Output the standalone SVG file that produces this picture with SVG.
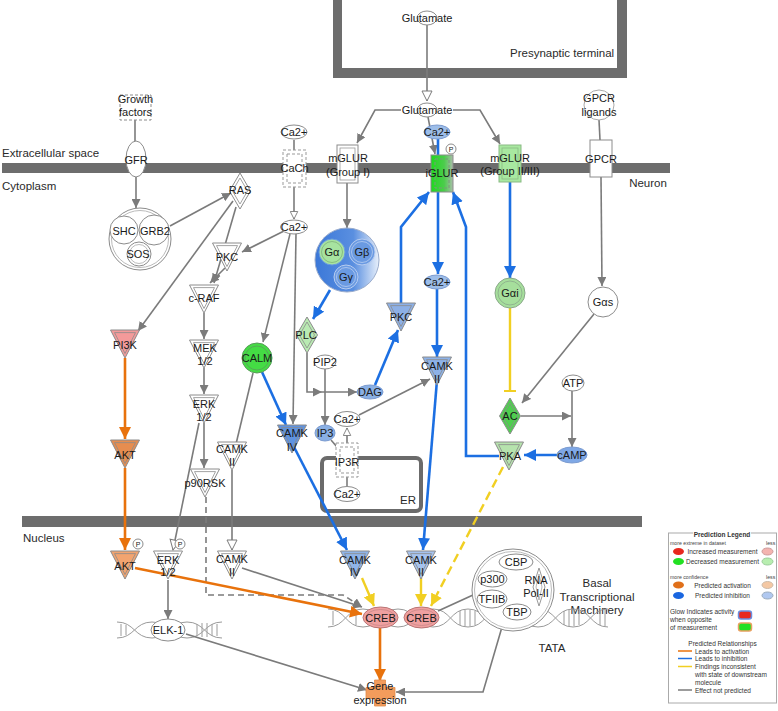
<svg xmlns="http://www.w3.org/2000/svg" width="778" height="711" viewBox="0 0 778 711">
<defs>
<style>
.t{font-family:"Liberation Sans",Arial,sans-serif;font-size:11px;fill:#1a1a1a;text-anchor:middle;dominant-baseline:central}
.c{font-family:"Liberation Sans",Arial,sans-serif;font-size:11.5px;fill:#2a2a2a;dominant-baseline:central}
.mem{fill:#6d6d6d}
.n{stroke:#8c8c8c;stroke-width:1}
.w{fill:#fff}
.g{stroke:#7b7b7b;stroke-width:1.6;fill:none}
.b{stroke:#1c6fe2;stroke-width:2.6;fill:none}
.o{stroke:#e8720c;stroke-width:2.6;fill:none}
.y{stroke:#f1cf22;stroke-width:2.4;fill:none}
.dna{stroke:#9a9a9a;stroke-width:1;fill:none}
.lg{font-family:"Liberation Sans",Arial,sans-serif;font-size:6.5px;fill:#333;dominant-baseline:central}
.ls{font-family:"Liberation Sans",Arial,sans-serif;font-size:5.2px;fill:#444;dominant-baseline:central}
.p{font-family:"Liberation Sans",Arial,sans-serif;font-size:7px;fill:#1a1a1a;text-anchor:middle;dominant-baseline:central}
</style>
<marker id="ag" viewBox="0 0 10 10" refX="10" refY="5" markerWidth="9" markerHeight="9" markerUnits="userSpaceOnUse" orient="auto"><path d="M0,0L10,5L0,10Z" fill="#7b7b7b"/></marker>
<marker id="ago" viewBox="0 0 12 12" refX="11" refY="6" markerWidth="12" markerHeight="12" markerUnits="userSpaceOnUse" orient="auto"><path d="M1,1L11,6L1,11Z" fill="#fff" stroke="#7b7b7b" stroke-width="1"/></marker>
<marker id="agos" viewBox="0 0 12 12" refX="11" refY="6" markerWidth="9" markerHeight="9" markerUnits="userSpaceOnUse" orient="auto"><path d="M1,1L11,6L1,11Z" fill="#fff" stroke="#7b7b7b" stroke-width="1.2"/></marker>
<marker id="ab" viewBox="0 0 10 10" refX="10" refY="5" markerWidth="12" markerHeight="12" markerUnits="userSpaceOnUse" orient="auto"><path d="M0,0L10,5L0,10Z" fill="#1c6fe2"/></marker>
<marker id="ao" viewBox="0 0 10 10" refX="10" refY="5" markerWidth="12" markerHeight="12" markerUnits="userSpaceOnUse" orient="auto"><path d="M0,0L10,5L0,10Z" fill="#e8720c"/></marker>
<marker id="ay" viewBox="0 0 10 10" refX="10" refY="5" markerWidth="12" markerHeight="12" markerUnits="userSpaceOnUse" orient="auto"><path d="M0,0L10,5L0,10Z" fill="#f1cf22"/></marker>
<marker id="ty" viewBox="0 0 4 12" refX="2" refY="6" markerWidth="4" markerHeight="12" markerUnits="userSpaceOnUse" orient="auto"><path d="M2,0V12" stroke="#f1cf22" stroke-width="2"/></marker>
<linearGradient id="gb" x1="0" y1="0" x2="1" y2="0"><stop offset="0" stop-color="#3b78d8"/><stop offset="0.6" stop-color="#5a8fe0"/><stop offset="1" stop-color="#e8f0fb"/></linearGradient>
<linearGradient id="gi" x1="0" y1="0" x2="1" y2="0"><stop offset="0" stop-color="#1fd81f"/><stop offset="0.6" stop-color="#4ccc4c"/><stop offset="1" stop-color="#a9bda9"/></linearGradient>
<g id="tri"><path d="M-14.5,0H14.5L0,28Z" stroke="#8c8c8c"/><path d="M-10.5,2.6H10.5L0,23.5Z" fill="none" stroke="#8c8c8c" stroke-width=".8"/></g>
<g id="dia"><path d="M0,-18L10.5,0L0,18L-10.5,0Z" stroke="#8c8c8c"/><path d="M0,-13L7.5,0L0,13L-7.5,0Z" fill="none" stroke="#8c8c8c" stroke-width=".8"/></g>
</defs>
<rect width="778" height="711" fill="#fff"/>

<g id="compartments">
<rect class="mem" x="333" y="0" width="9" height="78"/>
<rect class="mem" x="333" y="68" width="294" height="10"/>
<rect class="mem" x="617" y="0" width="10" height="78"/>
<rect class="mem" x="2" y="163" width="668" height="10"/>
<rect class="mem" x="22" y="516" width="620" height="11"/>
<rect x="322" y="458" width="99" height="53" rx="5" fill="none" stroke="#6b6b6b" stroke-width="4"/>
<text class="c" x="510" y="53">Presynaptic terminal</text>
<text class="c" x="2" y="153">Extracellular space</text>
<text class="c" x="2" y="186">Cytoplasm</text>
<text class="c" x="648" y="183" text-anchor="middle">Neuron</text>
<text class="c" x="23" y="538">Nucleus</text>
<text class="c" x="408" y="500" text-anchor="middle">ER</text>
<text class="c" x="597" y="583" text-anchor="middle">Basal</text>
<text class="c" x="597" y="597" text-anchor="middle">Transcriptional</text>
<text class="c" x="597" y="610" text-anchor="middle">Machinery</text>
<text class="c" x="552" y="648" text-anchor="middle">TATA</text>
</g>

<g id="dna">
<path class="dna" d="M328,627 C345.5,627 345.5,609 363,609 S380.5,627 398,627 S415.5,609 433,609 S450.5,627 468,627 S485.5,609 503,609 S520.5,627 538,627 S555.5,609 573,609 S590.5,627 608,627"/>
<path class="dna" d="M328,609 C345.5,609 345.5,627 363,627 S380.5,609 398,609 S415.5,627 433,627 S450.5,609 468,609 S485.5,627 503,627 S520.5,609 538,609 S555.5,627 573,627 S590.5,609 608,609"/>
<path class="dna" d="M333,611V625M356,611V625M460,611V625M465,610V626M470,610V626M475,611V625M564,611V625M569,610V626M574,610V626M579,611V625M600,611V625M605,610V626"/>
<path class="dna" d="M117,638 C134.5,638 134.5,622 152,622 S169.5,638 187,638 S204.5,622 222,622"/>
<path class="dna" d="M117,622 C134.5,622 134.5,638 152,638 S169.5,622 187,622 S204.5,638 222,638"/>
<path class="dna" d="M121,624V636M126,625V635M197,624V636M202,623V637M207,623V637M212,624V636M217,624V636"/>
</g>

<g id="connectors">
<line class="g" x1="427" y1="25" x2="427" y2="101" marker-end="url(#ago)"/>
<polyline class="g" points="401,110 375,110 357,143" marker-end="url(#ag)"/>
<polyline class="g" points="453,110 480,110 500,144" marker-end="url(#ag)"/>
<line class="g" x1="428" y1="117" x2="435" y2="154" marker-end="url(#ag)"/>
<line class="g" x1="135" y1="120" x2="135" y2="141"/>
<line class="g" x1="136" y1="177" x2="136" y2="208" marker-end="url(#ag)"/>
<line class="g" x1="170" y1="226" x2="231" y2="193" marker-end="url(#ag)"/>
<line class="g" x1="233" y1="201" x2="138" y2="331" marker-end="url(#ag)"/>
<line class="g" x1="236" y1="207" x2="214" y2="283" marker-end="url(#ag)"/>
<line class="g" x1="225" y1="268" x2="210" y2="283" marker-end="url(#ag)"/>
<line class="g" x1="294" y1="140" x2="294" y2="150"/>
<line class="g" x1="294" y1="187" x2="294" y2="219" marker-end="url(#agos)"/>
<line class="g" x1="284" y1="231" x2="242" y2="252" marker-end="url(#ag)"/>
<line class="g" x1="290" y1="234" x2="263" y2="342" marker-end="url(#ag)"/>
<line class="g" x1="296" y1="234" x2="293" y2="424" marker-end="url(#ag)"/>
<line class="g" x1="253" y1="373" x2="236" y2="444"/>
<line class="g" x1="232" y1="470" x2="232" y2="550" marker-end="url(#ago)"/>
<line class="g" x1="199" y1="423" x2="173" y2="550" marker-end="url(#ago)"/>
<line class="g" x1="204" y1="313" x2="204" y2="339" marker-end="url(#ag)"/>
<line class="g" x1="204" y1="368" x2="204" y2="394" marker-end="url(#ag)"/>
<line class="g" x1="204" y1="423" x2="204" y2="468" marker-end="url(#ag)"/>
<polyline class="g" points="206,497 206,595 343,595 362,607" stroke-dasharray="6,4" marker-end="url(#ag)"/>
<line class="g" x1="347" y1="183" x2="347" y2="228" marker-end="url(#ag)"/>
<polyline class="g" points="307,353 307,392 322,392" marker-end="url(#ag)"/>
<line class="g" x1="322" y1="392" x2="357" y2="392" marker-end="url(#ag)"/>
<line class="g" x1="325" y1="369" x2="325" y2="425" marker-end="url(#ag)"/>
<line class="g" x1="359" y1="415" x2="430" y2="379" marker-end="url(#ag)"/>
<line class="g" x1="347" y1="443" x2="347" y2="428" marker-end="url(#agos)"/>
<line class="g" x1="347" y1="477" x2="347" y2="486"/>
<line class="g" x1="331" y1="440" x2="337" y2="447"/>
<line class="g" x1="599" y1="120" x2="600" y2="140"/>
<line class="g" x1="601" y1="177" x2="602" y2="286" marker-end="url(#ag)"/>
<line class="g" x1="594" y1="314" x2="522" y2="403" marker-end="url(#ag)"/>
<line class="g" x1="521" y1="416" x2="571" y2="416" marker-end="url(#ag)"/>
<line class="g" x1="572" y1="391" x2="572" y2="447" marker-end="url(#ag)"/>
<line class="g" x1="242" y1="568" x2="362" y2="607" marker-end="url(#ag)"/>
<line class="g" x1="186" y1="634" x2="367" y2="690" marker-end="url(#ag)"/>
<polyline class="g" points="502,627 483,692 396,692" marker-end="url(#ag)"/>
<line class="g" x1="438" y1="611" x2="473" y2="595"/>
<line class="g" x1="168" y1="580" x2="168" y2="619" marker-end="url(#ag)"/>

<line class="b" x1="438" y1="139" x2="438" y2="156"/>
<line class="b" x1="438" y1="192" x2="438" y2="274" marker-end="url(#ab)"/>
<line class="b" x1="437" y1="289" x2="437" y2="357" marker-end="url(#ab)"/>
<line class="b" x1="437" y1="380" x2="423" y2="550" marker-end="url(#ab)"/>
<line class="b" x1="330" y1="290" x2="313" y2="319" marker-end="url(#ab)"/>
<line class="b" x1="375" y1="385" x2="398" y2="330" marker-end="url(#ab)"/>
<polyline class="b" points="401,305 401,227 429,192" marker-end="url(#ab)"/>
<polyline class="b" points="499,456 466,456 466,227 453,192" marker-end="url(#ab)"/>
<line class="b" x1="557" y1="455" x2="524" y2="455" marker-end="url(#ab)"/>
<line class="b" x1="510" y1="182" x2="510" y2="278" marker-end="url(#ab)"/>
<line class="b" x1="262" y1="372" x2="286" y2="425" marker-end="url(#ab)"/>
<line class="b" x1="294" y1="447" x2="347" y2="550" marker-end="url(#ab)"/>

<line class="o" x1="125" y1="358" x2="125" y2="439" marker-end="url(#ao)"/>
<line class="o" x1="125" y1="468" x2="125" y2="550" marker-end="url(#ao)"/>
<line class="o" x1="135" y1="568" x2="362" y2="614" marker-end="url(#ao)"/>
<line class="o" x1="380" y1="628" x2="380" y2="681" marker-end="url(#ao)"/>

<line class="y" x1="510" y1="308" x2="510" y2="391" marker-end="url(#ty)"/>
<line class="y" x1="362" y1="578" x2="374" y2="606" marker-end="url(#ay)"/>
<line class="y" x1="421" y1="578" x2="421" y2="606" marker-end="url(#ay)"/>
<line class="y" x1="503" y1="467" x2="431" y2="606" stroke-dasharray="9,5" marker-end="url(#ay)"/>
</g>

<g id="glutamate-top"><ellipse class="n w" cx="427" cy="18" rx="10" ry="7"/><text class="t" x="427" y="18">Glutamate</text></g>
<g id="glutamate"><ellipse class="n w" cx="427" cy="110" rx="10" ry="7"/><text class="t" x="427" y="110">Glutamate</text></g>
<g id="growth-factors"><rect class="w" x="120" y="95" width="31" height="25" stroke="#8c8c8c" stroke-dasharray="3,2"/><text class="t" x="135.5" y="99">Growth</text><text class="t" x="135.5" y="112">factors</text></g>
<g id="gfr"><ellipse class="n w" cx="136" cy="159" rx="10" ry="18"/><text class="t" x="136" y="160">GFR</text></g>
<g id="shc-grb2-sos"><circle class="n w" cx="140" cy="239" r="31"/><circle cx="140" cy="239" r="28.5" fill="none" stroke="#aaa" stroke-width=".8"/><circle class="n w" cx="124" cy="230" r="14"/><circle class="n w" cx="154" cy="230" r="15"/><circle class="n w" cx="139" cy="254" r="12"/><circle cx="139" cy="254" r="9.5" fill="none" stroke="#aaa" stroke-width=".8"/><text class="t" x="124" y="231">SHC</text><text class="t" x="155" y="231">GRB2</text><text class="t" x="138" y="254">SOS</text></g>
<g id="ras"><use href="#dia" x="240" y="191" fill="#fff"/><text class="t" x="240" y="190">RAS</text></g>
<g id="ca-top"><ellipse class="n w" cx="294" cy="132" rx="13" ry="7"/><text class="t" x="294" y="132">Ca2+</text></g>
<g id="cach"><rect class="w" x="283" y="150" width="23" height="37" stroke="#999" stroke-dasharray="3,2"/><rect x="287" y="154" width="15" height="29" fill="none" stroke="#999" stroke-dasharray="3,2"/><text class="t" x="294.5" y="168">CaCh</text></g>
<g id="ca-mid"><ellipse class="n w" cx="294" cy="227" rx="13.5" ry="7"/><text class="t" x="294" y="227">Ca2+</text></g>
<g id="pkc-left"><use href="#tri" x="227" y="243" fill="#fff"/><text class="t" x="227" y="257">PKC</text></g>
<g id="c-raf"><use href="#tri" x="204" y="285" fill="#fff"/><text class="t" x="204" y="298">c-RAF</text></g>
<g id="mek"><use href="#tri" x="204" y="340" fill="#fff"/><text class="t" x="205" y="348">MEK</text><text class="t" x="205" y="361">1/2</text></g>
<g id="erk"><use href="#tri" x="204" y="395" fill="#fff"/><text class="t" x="204" y="404">ERK</text><text class="t" x="204" y="417">1/2</text></g>
<g id="p90rsk"><use href="#tri" x="205" y="469" fill="#fff"/><text class="t" x="205" y="483">p90RSK</text></g>
<g id="pi3k"><use href="#tri" x="125" y="330" fill="#f49a9a"/><text class="t" x="125" y="345">PI3K</text></g>
<g id="akt"><use href="#tri" x="125" y="440" fill="#e68d50"/><text class="t" x="125" y="455">AKT</text></g>
<g id="calm"><circle cx="257" cy="358" r="15" fill="#44dc44" stroke="#5a9a5a"/><circle cx="257" cy="358" r="12" fill="none" stroke="#5a9a5a" stroke-width=".8"/><text class="t" x="257" y="358">CALM</text></g>
<g id="camk4-cyto"><use href="#tri" x="292" y="425" fill="#5f93e0"/><text class="t" x="292" y="433">CAMK</text><text class="t" x="292" y="447">IV</text></g>
<g id="camk2-cyto-w"><use href="#tri" x="232" y="442" fill="#fff"/><text class="t" x="232" y="449">CAMK</text><text class="t" x="232" y="462">II</text></g>
<g id="mglur1"><rect class="n w" x="337" y="145" width="21" height="38"/><rect x="340" y="148" width="15" height="32" fill="none" stroke="#999" stroke-width=".8"/><text class="t" x="348" y="158">mGLUR</text><text class="t" x="348" y="172">(Group I)</text></g>
<g id="g-protein"><circle cx="347" cy="260" r="32" fill="url(#gb)" stroke="#9aaccc"/><circle cx="332" cy="252" r="13" fill="#a7e3a0" stroke="#6a9ae2"/><circle cx="332" cy="252" r="10.5" fill="none" stroke="#7fb37a" stroke-width=".8"/><circle cx="362" cy="252" r="13" fill="#6a9ae2" stroke="#b8cdf0"/><circle cx="362" cy="252" r="10.5" fill="none" stroke="#b8cdf0" stroke-width=".8"/><circle cx="346" cy="277" r="12" fill="#6a9ae2" stroke="#b8cdf0"/><circle cx="346" cy="277" r="9.5" fill="none" stroke="#b8cdf0" stroke-width=".8"/><text class="t" x="332" y="252">Gα</text><text class="t" x="362" y="252">Gβ</text><text class="t" x="346" y="277">Gγ</text></g>
<g id="plc"><use href="#dia" x="307" y="335" fill="#b9eab2"/><text class="t" x="306" y="335">PLC</text></g>
<g id="pip2"><ellipse class="n w" cx="325" cy="362" rx="11" ry="7"/><text class="t" x="325" y="362">PIP2</text></g>
<g id="dag"><ellipse cx="370" cy="392" rx="13" ry="7" fill="#8ab0e4" stroke="#7b9bd0"/><text class="t" x="370" y="392">DAG</text></g>
<g id="ip3"><ellipse cx="325" cy="433" rx="10" ry="8" fill="#8ab0e4" stroke="#7b9bd0"/><text class="t" x="325" y="433">IP3</text></g>
<g id="ca-er-top"><ellipse class="n w" cx="347" cy="419" rx="13" ry="7.5"/><text class="t" x="347" y="419">Ca2+</text></g>
<g id="ip3r"><rect class="w" x="336" y="443" width="22" height="34" stroke="#999" stroke-dasharray="3,2"/><rect x="340" y="447" width="14" height="26" fill="none" stroke="#999" stroke-dasharray="3,2"/><text class="t" x="347" y="462">IP3R</text></g>
<g id="ca-er"><ellipse class="n w" cx="347" cy="494" rx="13" ry="7.5"/><text class="t" x="347" y="494">Ca2+</text></g>
<g id="pkc-blue"><use href="#tri" x="401" y="303" fill="#8db0e6"/><text class="t" x="401" y="317">PKC</text></g>
<g id="ca-iglur"><ellipse cx="437" cy="132" rx="13" ry="7" fill="#9dbde8" stroke="#7b9bd0"/><text class="t" x="437" y="132">Ca2+</text></g>
<g id="iglur"><rect x="431" y="155" width="22" height="37" fill="url(#gi)" stroke="#8c8c8c"/><rect x="435" y="159" width="14" height="29" fill="none" stroke="#7a9a7a" stroke-dasharray="3,2"/><text class="t" x="442" y="173">iGLUR</text><circle class="n w" cx="451" cy="149" r="5"/><text class="p" x="451" y="149">P</text></g>
<g id="ca-lower"><ellipse cx="437" cy="282" rx="13" ry="7" fill="#9dbde8" stroke="#7b9bd0"/><text class="t" x="437" y="282">Ca2+</text></g>
<g id="camk2-blue"><use href="#tri" x="437" y="357" fill="#8db2e8"/><text class="t" x="437" y="366">CAMK</text><text class="t" x="437" y="379">II</text></g>
<g id="mglur23"><rect x="499" y="145" width="22" height="37" fill="#a8e8a0" stroke="#8aba84"/><rect x="502" y="148" width="16" height="31" fill="none" stroke="#8aba84" stroke-width=".8"/><text class="t" x="510" y="158">mGLUR</text><text class="t" x="510" y="171">(Group II/III)</text></g>
<g id="gai"><circle cx="510" cy="293" r="15" fill="#a6df9c" stroke="#8aa88a"/><circle cx="510" cy="293" r="12" fill="none" stroke="#8aa88a" stroke-width=".8"/><text class="t" x="510" y="293">Gαi</text></g>
<g id="ac"><use href="#dia" x="510" y="416" fill="#4fcf4f"/><text class="t" x="510" y="416">AC</text></g>
<g id="pka"><use href="#tri" x="509" y="442" fill="#b6e3ad"/><text class="t" x="510" y="456">PKA</text></g>
<g id="camp"><ellipse cx="572" cy="455" rx="15" ry="8" fill="#7fa8e6" stroke="#7b9bd0"/><text class="t" x="572" y="455">cAMP</text></g>
<g id="atp"><ellipse class="n w" cx="573" cy="383" rx="11" ry="8"/><text class="t" x="573" y="383">ATP</text></g>
<g id="gas"><circle class="n w" cx="603" cy="302" r="15"/><text class="t" x="603" y="302">Gαs</text></g>
<g id="gpcr"><rect class="n w" x="590" y="140" width="22" height="37"/><text class="t" x="601" y="159">GPCR</text></g>
<g id="gpcr-ligands"><circle cx="599" cy="105" r="15" fill="#fff" stroke="#aaa"/><text class="t" x="599" y="98">GPCR</text><text class="t" x="599" y="112">ligands</text></g>
<g id="akt-nuc"><use href="#tri" x="125" y="551" fill="#f2a470"/><text class="t" x="125" y="566">AKT</text><circle class="n w" cx="138" cy="544" r="5"/><text class="p" x="138" y="544">P</text></g>
<g id="erk-nuc"><use href="#tri" x="168" y="551" fill="#fff"/><text class="t" x="168" y="560">ERK</text><text class="t" x="168" y="572">1/2</text><circle class="n w" cx="180" cy="544" r="5"/><text class="p" x="180" y="544">P</text></g>
<g id="camk2-nuc-w"><use href="#tri" x="232" y="551" fill="#fff"/><text class="t" x="232" y="559">CAMK</text><text class="t" x="232" y="572">II</text></g>
<g id="camk4-nuc"><use href="#tri" x="355" y="551" fill="#8fb4e8"/><text class="t" x="355" y="560">CAMK</text><text class="t" x="355" y="572">IV</text></g>
<g id="camk2-nuc"><use href="#tri" x="421" y="551" fill="#a6c3ee"/><text class="t" x="421" y="560">CAMK</text><text class="t" x="421" y="572">II</text></g>
<g id="elk1"><ellipse class="n w" cx="168" cy="630" rx="17" ry="11"/><text class="t" x="168" y="630">ELK-1</text></g>
<g id="creb1"><ellipse cx="380.5" cy="617.5" rx="17.5" ry="10.5" fill="#f0a0a0" stroke="#b87575"/><ellipse cx="380.5" cy="617.5" rx="14.5" ry="8" fill="none" stroke="#c88888" stroke-width=".8"/><text class="t" x="380.5" y="618">CREB</text></g>
<g id="creb2"><ellipse cx="421.5" cy="617.5" rx="17.5" ry="10.5" fill="#f0a0a0" stroke="#b87575"/><ellipse cx="421.5" cy="617.5" rx="14.5" ry="8" fill="none" stroke="#c88888" stroke-width=".8"/><text class="t" x="421.5" y="618">CREB</text></g>
<g id="basal-complex"><circle class="n w" cx="513" cy="590" r="41"/><circle cx="513" cy="590" r="38.5" fill="none" stroke="#aaa" stroke-width=".8"/><path d="M539,568L545,587L539,606L533,587Z" fill="#fff" stroke="#999"/><path d="M539,574L542,587L539,600L536,587Z" fill="none" stroke="#999" stroke-width=".7"/><ellipse class="n w" cx="516" cy="562" rx="17" ry="8"/><ellipse class="n w" cx="492.5" cy="579" rx="14.5" ry="8"/><ellipse class="n w" cx="492" cy="599" rx="15" ry="9"/><ellipse class="n w" cx="517" cy="612" rx="14" ry="8"/><text class="t" x="516" y="562">CBP</text><text class="t" x="492.5" y="579">p300</text><text class="t" x="492" y="599">TFIIB</text><text class="t" x="517" y="612">TBP</text><text class="t" x="536" y="580">RNA</text><text class="t" x="536" y="593">Pol-II</text></g>
<g id="gene-expression"><path d="M374.5,680H385.5V687.5H395V698.5H385.5V706H374.5V698.5H366V687.5H374.5Z" fill="#f39c5c" stroke="#e08a4a" stroke-width=".8"/><text class="t" x="380" y="686">Gene</text><text class="t" x="380" y="700">expression</text></g>

<g id="legend">
<rect x="668.5" y="533" width="108" height="170" fill="#fff" stroke="#aaa"/>
<rect x="693" y="529" width="58" height="8" fill="#fff"/>
<text class="lg" x="722" y="534" text-anchor="middle" font-weight="bold">Prediction Legend</text>
<text class="ls" x="670" y="543">more extreme in dataset</text><text class="ls" x="766" y="543">less</text>
<ellipse cx="678.5" cy="551.5" rx="5.5" ry="3.5" fill="#e8281e"/><text class="lg" x="722.5" y="551.5" text-anchor="middle">Increased measurement</text><ellipse cx="767.5" cy="551.5" rx="5.5" ry="3.5" fill="#f4b4b0" stroke="#c99"/>
<ellipse cx="678.5" cy="561.5" rx="5.5" ry="3.5" fill="#22e022"/><text class="lg" x="722.5" y="561.5" text-anchor="middle">Decreased measurement</text><ellipse cx="767.5" cy="561.5" rx="5.5" ry="3.5" fill="#b8eeb0" stroke="#9c9"/>
<text class="ls" x="670" y="577">more confidence</text><text class="ls" x="766" y="577">less</text>
<ellipse cx="678.5" cy="585" rx="5.5" ry="3.5" fill="#e0701a"/><text class="lg" x="722.5" y="585" text-anchor="middle">Predicted activation</text><ellipse cx="767.5" cy="585" rx="5.5" ry="3.5" fill="#f4c8a4" stroke="#cba"/>
<ellipse cx="678.5" cy="595.5" rx="5.5" ry="3.5" fill="#1a66e0"/><text class="lg" x="722.5" y="595.5" text-anchor="middle">Predicted inhibition</text><ellipse cx="767.5" cy="595.5" rx="5.5" ry="3.5" fill="#b0c8f0" stroke="#9ab"/>
<text class="lg" x="670" y="611.5">Glow Indicates activity</text><text class="lg" x="670" y="619.5">when opposite</text><text class="lg" x="670" y="627.5">of measurement</text>
<rect x="738.5" y="611" width="13" height="8" rx="2.5" fill="#e8281e" stroke="#6a8fe0" stroke-width="1.5"/>
<rect x="738.5" y="623" width="13" height="8" rx="2.5" fill="#22e022" stroke="#e8a060" stroke-width="1.5"/>
<text class="lg" x="722.5" y="643.5" text-anchor="middle">Predicted Relationships</text>
<line x1="678" y1="651" x2="692" y2="651" stroke="#e8720c" stroke-width="1.5"/><text class="lg" x="695" y="651">Leads to activation</text>
<line x1="678" y1="658.5" x2="692" y2="658.5" stroke="#1c6fe2" stroke-width="1.5"/><text class="lg" x="695" y="658.5">Leads to inhibition</text>
<line x1="678" y1="666.5" x2="692" y2="666.5" stroke="#f1cf22" stroke-width="1.5"/><text class="lg" x="695" y="666.5">Findings inconsistent</text><text class="lg" x="695" y="674.5">with state of downstream</text><text class="lg" x="695" y="682.5">molecule</text>
<line x1="678" y1="690" x2="692" y2="690" stroke="#7b7b7b" stroke-width="1.5"/><text class="lg" x="695" y="690">Effect not predicted</text>
</g>
</svg>
